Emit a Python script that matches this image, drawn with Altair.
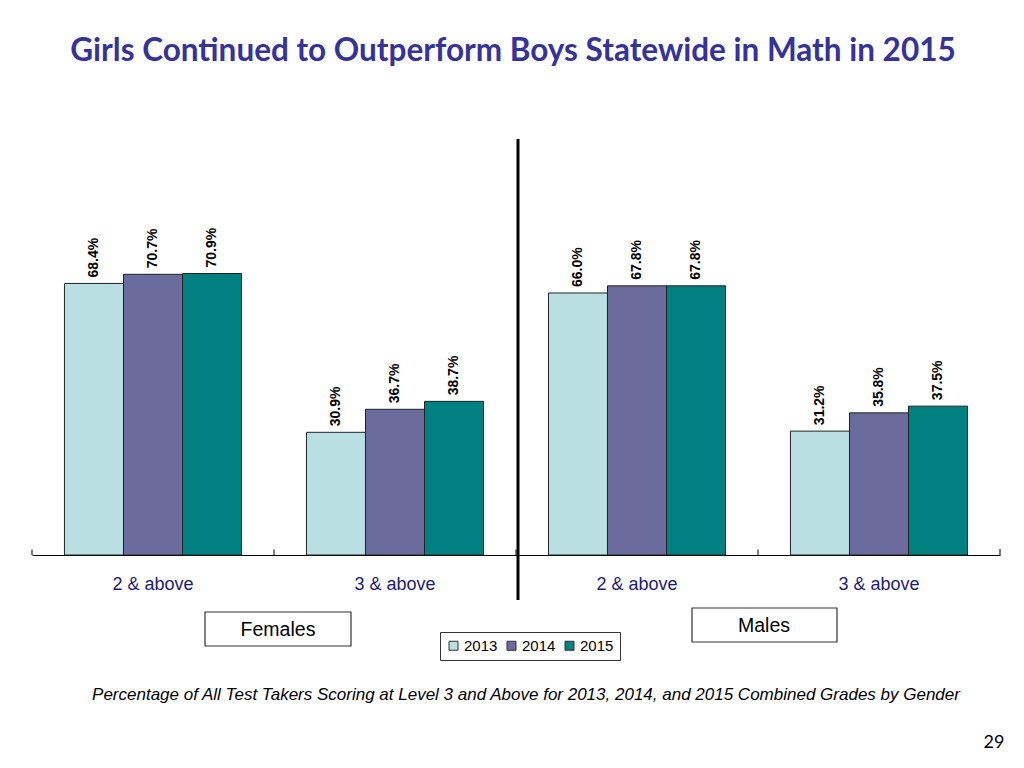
import altair as alt
import pandas as pd

groups = ["F2", "F3", "M2", "M3"]
group_labels = ["2 & above", "3 & above", "2 & above", "3 & above"]
years = ["2013", "2014", "2015"]
values = {
    "F2": [68.4, 70.7, 70.9],
    "F3": [30.9, 36.7, 38.7],
    "M2": [66.0, 67.8, 67.8],
    "M3": [31.2, 35.8, 37.5],
}
colors = ["#B9DFE3", "#6B6B9E", "#008080"]

title_text = "Girls Continued to Outperform Boys Statewide in Math in 2015"
caption_text = ("Percentage of All Test Takers Scoring at Level 3 and Above for 2013, "
                "2014, and 2015 Combined Grades by Gender")
page_number = "29"

rows = []
for g in groups:
    for y, v in zip(years, values[g]):
        rows.append({"group": g, "year": y, "value": v})
df = pd.DataFrame(rows)

label_expr = "".join(
    f"datum.value == '{g}' ? '{l}' : " for g, l in zip(groups, group_labels)
) + "''"

x_enc = alt.X(
    "group:N",
    sort=groups,
    scale=alt.Scale(paddingInner=0, paddingOuter=0),
    axis=alt.Axis(
        title=None,
        labelExpr=label_expr,
        labelAngle=0,
        labelFontSize=18,
        labelFont="Liberation Sans",
        labelColor="#1C1C72",
        labelPadding=20,
        ticks=False,
        domainColor="#000000",
        domainWidth=1,
    ),
)
y_scale = alt.Scale(domain=[0, 100])

base = alt.Chart(df)

bars = base.mark_bar(stroke="#222222", strokeWidth=1).encode(
    x=x_enc,
    xOffset=alt.XOffset("year:N", sort=years,
                        scale=alt.Scale(paddingOuter=0.55, paddingInner=0)),
    y=alt.Y("value:Q", scale=y_scale, axis=None),
    fill=alt.Fill(
        "year:N",
        sort=years,
        scale=alt.Scale(domain=years, range=colors),
        legend=alt.Legend(
            title=None,
            orient="none",
            legendX=408,
            legendY=474,
            direction="horizontal",
            strokeColor="#333333",
            fillColor="#ffffff",
            padding=6,
            symbolType="square",
            symbolSize=81,
            symbolStrokeColor="#333333",
            symbolStrokeWidth=1,
            labelFontSize=15,
            labelFont="Liberation Sans",
            labelColor="#000000",
            columnPadding=6,
            labelOffset=3,
        ),
    ),
)

labels = base.mark_text(
    angle=270, align="left", baseline="middle", dx=6,
    fontWeight="bold", fontSize=14, font="Liberation Sans", color="#000000",
).transform_calculate(
    label="format(datum.value, '.1f') + '%'"
).encode(
    x=alt.X("group:N", sort=groups),
    xOffset=alt.XOffset("year:N", sort=years),
    y=alt.Y("value:Q", scale=y_scale),
    text="label:N",
)

ticks = base.transform_filter(alt.datum.year == years[0]).mark_rule(
    color="#000000", strokeWidth=1
).encode(
    x=alt.X("group:N", sort=groups, bandPosition=0),
    y=alt.datum(0),
    y2=alt.datum(1.4),
)

one = alt.InlineData(values=[{"k": 1}])

end_tick = alt.Chart(one).mark_rule(color="#000000", strokeWidth=1).encode(
    x=alt.value(968), y=alt.value(397), y2=alt.value(391)
)

separator = alt.Chart(one).mark_rule(color="#000000", strokeWidth=3).encode(
    x=alt.value(486), y=alt.value(-19), y2=alt.value(442)
)

fem_box = alt.Chart(one).mark_rect(fill="#ffffff", stroke="#333333", strokeWidth=1.2).encode(
    x=alt.value(173), x2=alt.value(319), y=alt.value(454), y2=alt.value(488)
)
fem_text = alt.Chart(one).mark_text(
    fontSize=19.5, font="Liberation Sans", color="#000000", baseline="middle"
).encode(x=alt.value(246), y=alt.value(472), text=alt.value("Females"))

male_box = alt.Chart(one).mark_rect(fill="#ffffff", stroke="#333333", strokeWidth=1.2).encode(
    x=alt.value(660), x2=alt.value(805), y=alt.value(450), y2=alt.value(484)
)
male_text = alt.Chart(one).mark_text(
    fontSize=19.5, font="Liberation Sans", color="#000000", baseline="middle"
).encode(x=alt.value(732), y=alt.value(468), text=alt.value("Males"))

title = alt.Chart(one).mark_text(
    fontSize=31.5, font="Lato", fontWeight="bold", color="#35339A", baseline="middle"
).encode(x=alt.value(481), y=alt.value(-106), text=alt.value(title_text))

caption = alt.Chart(one).mark_text(
    fontSize=17, font="Liberation Sans", fontStyle="italic", color="#000000",
    baseline="middle"
).encode(x=alt.value(494), y=alt.value(537), text=alt.value(caption_text))

page = alt.Chart(one).mark_text(
    fontSize=18, font="Lato", color="#000000", baseline="middle"
).encode(x=alt.value(962), y=alt.value(585), text=alt.value(page_number))

chart = alt.layer(
    bars, labels, ticks, end_tick, separator,
    fem_box, fem_text, male_box, male_text, title, caption, page,
).properties(
    width=968,
    height=397,
    autosize=alt.AutoSizeParams(type="none"),
    padding={"left": 24, "top": 150, "right": 16, "bottom": 205},
).configure_view(stroke=None)

chart.save("out.html", embed_options={"renderer": "svg", "actions": False})
